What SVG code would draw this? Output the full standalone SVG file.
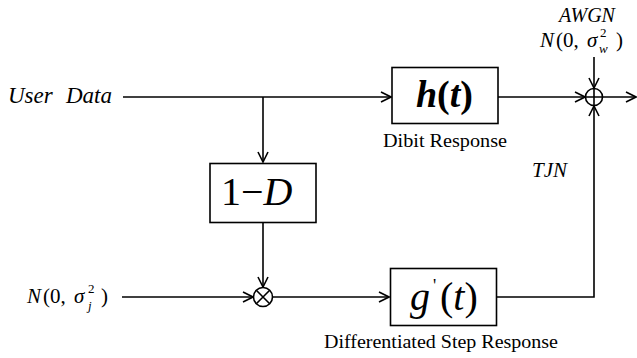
<svg xmlns="http://www.w3.org/2000/svg" width="637" height="358" viewBox="0 0 637 358">
<style>
.ln{fill:none;stroke:#000;stroke-width:1.6}
.bx{fill:#fff;stroke:#000;stroke-width:1.6}
.i{font-style:italic}
</style>
<defs>
<marker id="arr" viewBox="0 0 12 12" refX="11" refY="6" markerWidth="12" markerHeight="12" markerUnits="userSpaceOnUse" orient="auto">
<path d="M1,1 L11,6 L1,11" fill="none" stroke="#000" stroke-width="1.6"/>
</marker>
</defs>
<rect width="637" height="358" fill="#fff"/>
<g id="connectors">
<path class="ln" d="M123,97 H391" marker-end="url(#arr)"/>
<path class="ln" d="M263,97 V162" marker-end="url(#arr)"/>
<path class="ln" d="M263,223 V287" marker-end="url(#arr)"/>
<path class="ln" d="M122,297 H253" marker-end="url(#arr)"/>
<path class="ln" d="M273,297 H389" marker-end="url(#arr)"/>
<path class="ln" d="M498,97 H585" marker-end="url(#arr)"/>
<path class="ln" d="M603,97 H636" marker-end="url(#arr)"/>
<path class="ln" d="M594,57 V88" marker-end="url(#arr)"/>
<path class="ln" d="M497,297 H594 V106" marker-end="url(#arr)"/>
</g>
<g font-family="Liberation Serif, Times New Roman, serif" fill="#000">
<g id="input-user-data">
<text class="i" x="8" y="103" font-size="23">User</text>
<text class="i" x="66" y="103" font-size="23">Data</text>
</g>
<g id="input-jitter">
<text class="i" x="27" y="303" font-size="21">N</text>
<text x="43" y="303" font-size="21">(0,</text>
<text class="i" x="74" y="303" font-size="21">σ</text>
<text x="88" y="293" font-size="13">2</text>
<text class="i" x="88" y="310" font-size="13">j</text>
<text x="101" y="303" font-size="21">)</text>
</g>
<g id="dibit">
<rect class="bx" x="392" y="67.5" width="106" height="56"/>
<text class="i" x="416" y="107" font-size="38" font-weight="bold">h</text>
<text x="437" y="107" font-size="38" font-weight="bold">(<tspan font-style="italic">t</tspan>)</text>
<text x="445" y="147" font-size="19" text-anchor="middle" textLength="124" lengthAdjust="spacingAndGlyphs">Dibit Response</text>
</g>
<g id="one-minus-d">
<rect class="bx" x="210" y="163.5" width="106" height="59"/>
<text x="221" y="205" font-size="40">1−<tspan font-style="italic">D</tspan></text>
</g>
<g id="multiplier">
<circle class="ln" cx="263" cy="297" r="9.5"/>
<path class="ln" d="M256.3,290.3 L269.7,303.7 M269.7,290.3 L256.3,303.7"/>
</g>
<g id="step">
<rect class="bx" x="390.5" y="268.5" width="106" height="57"/>
<text class="i" x="410" y="310" font-size="40">g</text>
<text x="433" y="292" font-size="18">'</text>
<text x="440" y="310" font-size="40">(<tspan font-style="italic">t</tspan>)</text>
<text x="441" y="348" font-size="19" text-anchor="middle" textLength="234" lengthAdjust="spacingAndGlyphs">Differentiated Step Response</text>
</g>
<g id="adder">
<circle class="ln" cx="594" cy="97" r="8.5"/>
<path class="ln" d="M585.5,97 H602.5 M594,88.5 V105.5"/>
</g>
<g id="awgn">
<text class="i" x="587" y="22" font-size="20" text-anchor="middle">AWGN</text>
<text class="i" x="540" y="47" font-size="21">N</text>
<text x="556" y="47" font-size="21">(0,</text>
<text class="i" x="587" y="47" font-size="21">σ</text>
<text x="600" y="37" font-size="13">2</text>
<text class="i" x="599" y="53" font-size="13">w</text>
<text x="616" y="47" font-size="21">)</text>
</g>
<g id="tjn">
<text class="i" x="532" y="177" font-size="21">TJN</text>
</g>
</g>
</svg>
